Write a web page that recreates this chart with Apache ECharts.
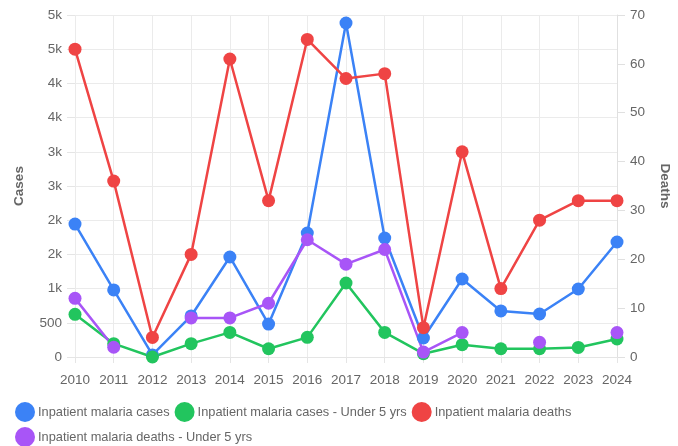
<!DOCTYPE html>
<html>
<head>
<meta charset="utf-8">
<script src="https://cdn.jsdelivr.net/npm/echarts@6/dist/echarts.min.js"></script>
<style>html,body{margin:0;padding:0;background:#fff;}#c{width:678px;height:446px;}</style>
</head>
<body>
<div id="c"></div>
<script>
const years = ['2010','2011','2012','2013','2014','2015','2016','2017','2018','2019','2020','2021','2022','2023','2024'];
const inpatientCases = [1944, 980, 30, 600, 1462, 482, 1813, 4883, 1740, 278, 1140, 673, 629, 994, 1681];
const inpatientCasesU5 = [624, 195, 0, 195, 360, 121, 287, 1082, 360, 48, 180, 121, 121, 140, 263];
const inpatientDeaths = [63, 36, 4, 21, 61, 32, 65, 57, 58, 6, 42, 14, 28, 32, 32];
const inpatientDeathsU5 = [12, 2, null, 8, 8, 11, 24, 19, 22, 1, 5, null, 3, null, 5];
const seriesNames = ['Inpatient malaria cases', 'Inpatient malaria cases - Under 5 yrs', 'Inpatient malaria deaths', 'Inpatient malaria deaths - Under 5 yrs'];
const colors = ['#3b82f6', '#22c55e', '#ef4444', '#a855f7'];

const font = 'Liberation Sans, Arial, sans-serif';
const chart = echarts.init(document.getElementById('c'));
function mk(name, data, axis, color) {
  return {
    name: name, type: 'line', data: data, yAxisIndex: axis,
    symbol: 'circle', symbolSize: 13, connectNulls: false,
    lineStyle: { width: 2.5, color: color },
    itemStyle: { color: color },
    emphasis: { disabled: true }
  };
}
chart.setOption({
  animation: false,
  textStyle: { fontFamily: font },
  grid: { left: 75, right: 61, top: 15, bottom: 89, outerBoundsMode: 'none', containLabel: false },
  legend: {
    left: 10, top: 397, itemWidth: 20, itemHeight: 20, itemGap: 5,
    icon: 'circle',
    textStyle: { fontSize: 12.8, color: '#666', fontFamily: font, padding: [0, 9, 0, -2] },
    data: seriesNames
  },
  xAxis: {
    type: 'category', data: years, boundaryGap: false,
    axisLine: { show: true, lineStyle: { color: '#e5e5e5' } },
    axisTick: { show: true, alignWithLabel: true, length: 6, lineStyle: { color: '#e5e5e5' } },
    axisLabel: { color: '#666', fontSize: 13.5, margin: 16, interval: 0 },
    splitLine: { show: true, lineStyle: { color: '#ebebeb' } }
  },
  yAxis: [
    {
      type: 'value', min: 0, max: 5000, interval: 500,
      name: 'Cases', nameLocation: 'middle', nameGap: 49,
      nameTextStyle: { fontWeight: 'bold', fontSize: 13.5, color: '#666' },
      axisLine: { show: false },
      axisTick: { show: true, length: 8, lineStyle: { color: '#e5e5e5' } },
      axisLabel: { color: '#666', fontSize: 13.5, margin: 13,
        formatter: v => v >= 1000 ? Math.round(v / 1000) + 'k' : String(v) },
      splitLine: { show: true, lineStyle: { color: '#ebebeb' } }
    },
    {
      type: 'value', min: 0, max: 70, interval: 10,
      name: 'Deaths', nameLocation: 'middle', nameGap: 41, nameRotate: -90,
      nameTextStyle: { fontWeight: 'bold', fontSize: 13.5, color: '#666' },
      axisLine: { show: true, lineStyle: { color: '#e0e0e0' } },
      axisTick: { show: true, length: 8, lineStyle: { color: '#e0e0e0' } },
      axisLabel: { color: '#666', fontSize: 13.5, margin: 13 },
      splitLine: { show: false }
    }
  ],
  series: [
    mk(seriesNames[0], inpatientCases, 0, colors[0]),
    mk(seriesNames[1], inpatientCasesU5, 0, colors[1]),
    mk(seriesNames[2], inpatientDeaths, 1, colors[2]),
    mk(seriesNames[3], inpatientDeathsU5, 1, colors[3])
  ]
});
</script>
</body>
</html>
